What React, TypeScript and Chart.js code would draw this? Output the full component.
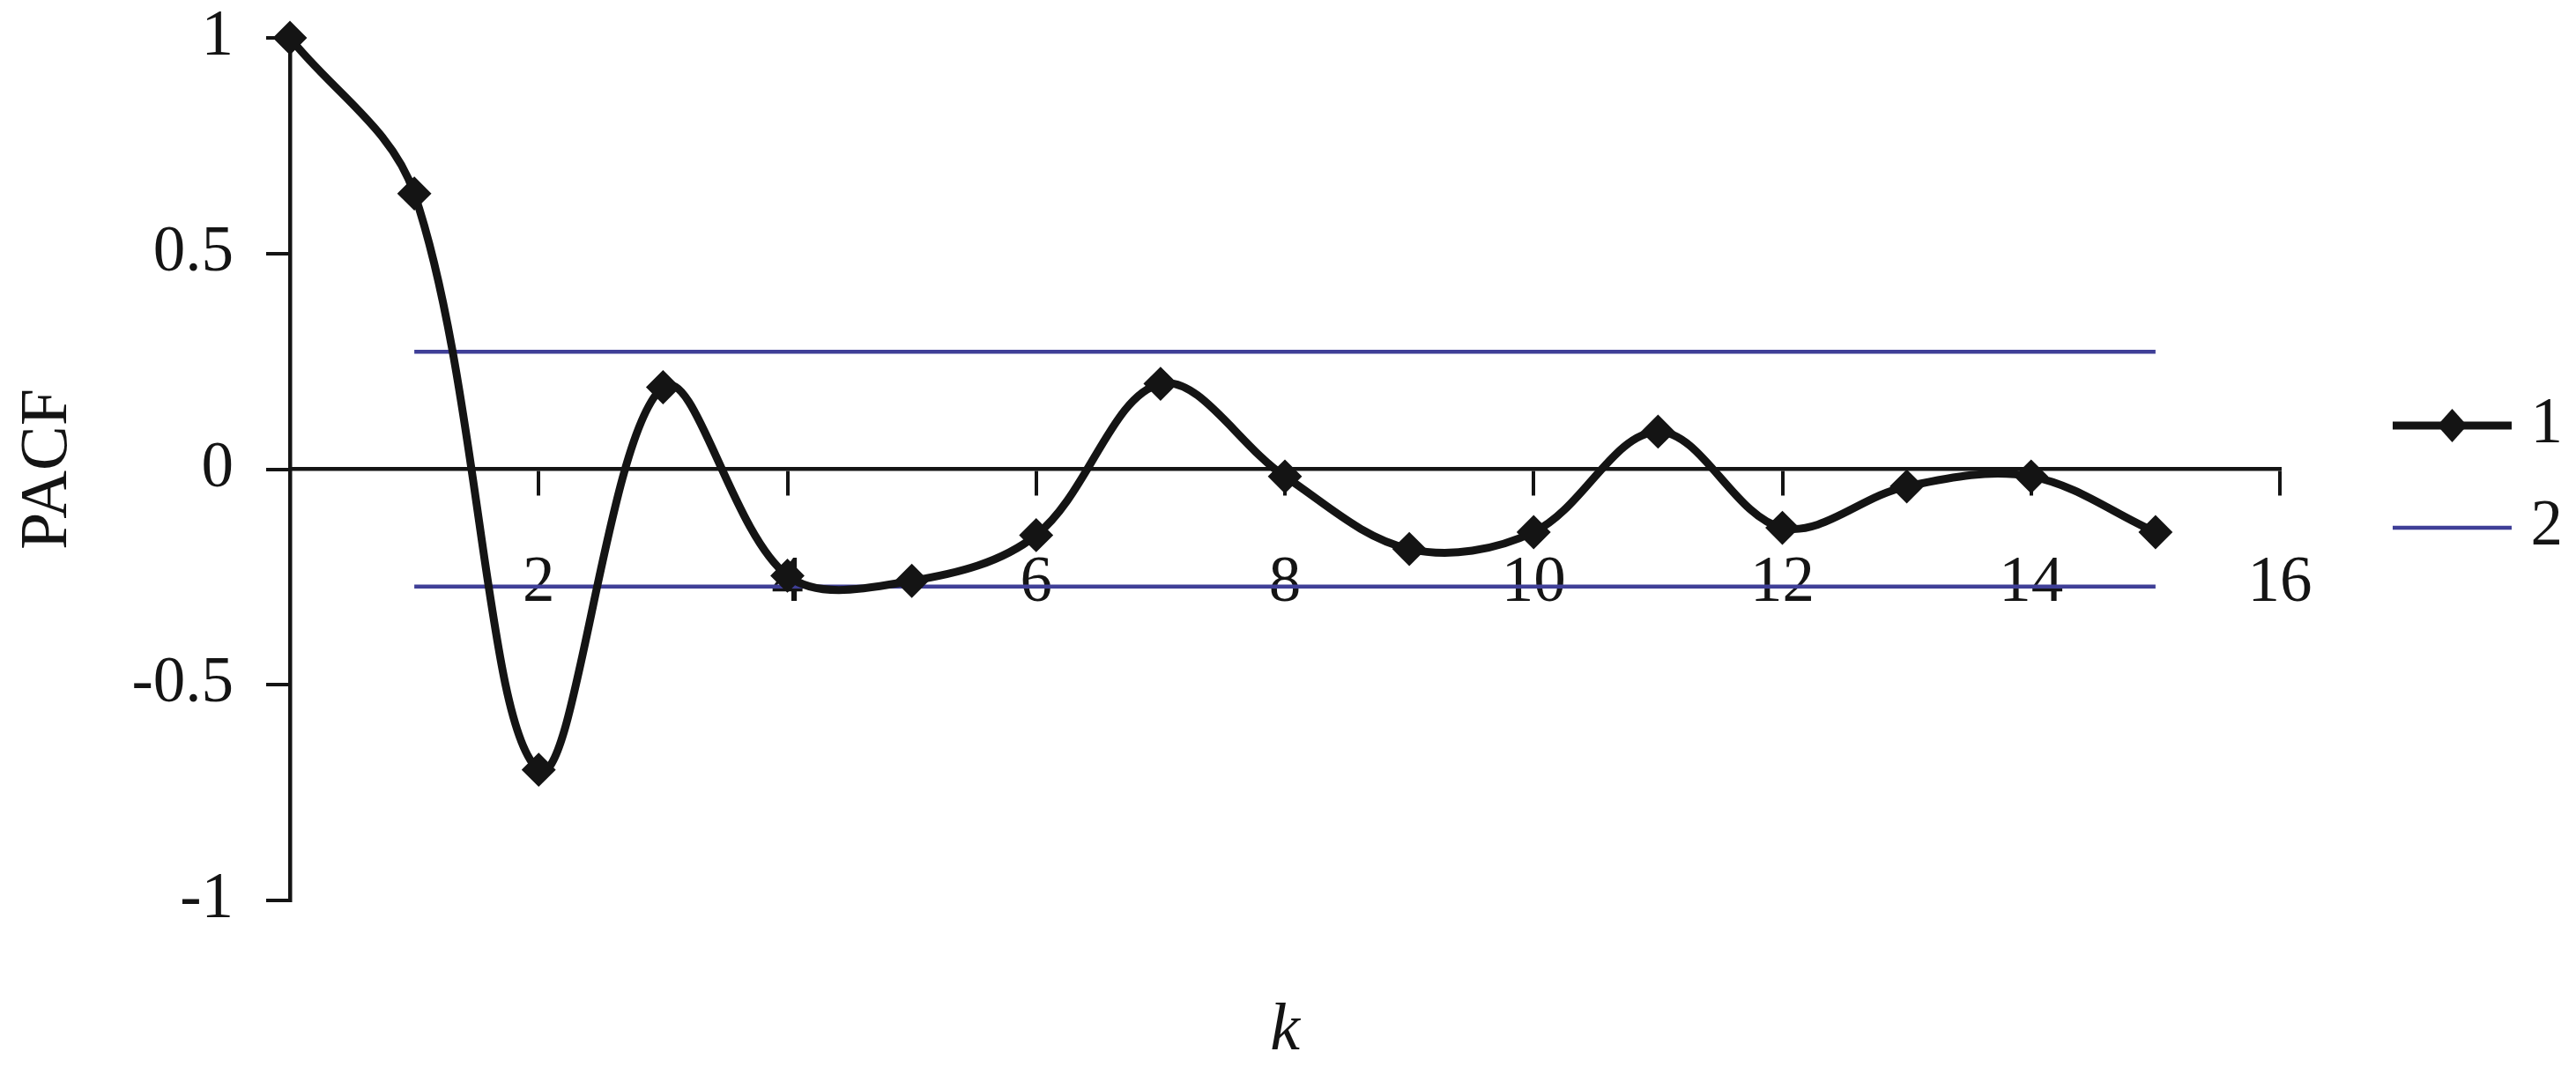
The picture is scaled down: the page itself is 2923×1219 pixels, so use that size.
import React, { useEffect, useRef } from 'react';
import { Chart, registerables } from 'chart.js';

Chart.register(...registerables);

// ---- data ----
const lags = [0, 1, 2, 3, 4, 5, 6, 7, 8, 9, 10, 11, 12, 13, 14, 15];
const pacfValues = [1.0, 0.639, -0.697, 0.19, -0.247, -0.259, -0.153, 0.198, -0.017, -0.185, -0.146, 0.087, -0.136, -0.04, -0.017, -0.146];
const boundLags = [1, 15];
const upperBound = 0.272;
const lowerBound = -0.272;
const xTicks = [2, 4, 6, 8, 10, 12, 14, 16];
const yTicks = [-1, -0.5, 0, 0.5, 1];
const seriesLabels = ['1', '2'];
const xTitle = 'k';
const yTitle = 'PACF';

const BLACK = '#141414';
const BLUE = '#3f3f97';
const FAMILY = "'Liberation Serif', 'Times New Roman', serif";

function makeLegendImage(kind: 'marker' | 'plain'): HTMLCanvasElement {
  const c = document.createElement('canvas');
  c.width = 235;
  c.height = 60;
  const g = c.getContext('2d') as CanvasRenderingContext2D;
  const cy = 30;
  g.lineCap = 'butt';
  if (kind === 'marker') {
    g.strokeStyle = BLACK;
    g.lineWidth = 9;
    g.beginPath();
    g.moveTo(100, cy);
    g.lineTo(235, cy);
    g.stroke();
    g.fillStyle = BLACK;
    g.beginPath();
    g.moveTo(167.5, cy - 19);
    g.lineTo(167.5 + 17, cy);
    g.lineTo(167.5, cy + 19);
    g.lineTo(167.5 - 17, cy);
    g.closePath();
    g.fill();
  } else {
    g.strokeStyle = BLUE;
    g.lineWidth = 4.5;
    g.beginPath();
    g.moveTo(100, cy);
    g.lineTo(235, cy);
    g.stroke();
  }
  return c;
}

export default function App() {
  const canvasRef = useRef<HTMLCanvasElement | null>(null);

  useEffect(() => {
    document.body.style.margin = '0';
    const canvas = canvasRef.current;
    if (!canvas) return;

    const legendImages = [makeLegendImage('marker'), makeLegendImage('plain')];

    const pacfData = lags.map((k, i) => ({ x: k, y: pacfValues[i] }));
    const boundData = [
      { x: boundLags[0], y: upperBound },
      { x: boundLags[1], y: upperBound },
      { x: boundLags[1], y: null },
      { x: boundLags[0], y: lowerBound },
      { x: boundLags[1], y: lowerBound },
    ];

    const chart = new Chart(canvas, {
      type: 'line',
      data: {
        datasets: [
          {
            label: seriesLabels[0],
            data: pacfData as any,
            borderColor: BLACK,
            backgroundColor: BLACK,
            borderWidth: 9,
            tension: 0.35,
            pointStyle: 'rectRot',
            pointRadius: 18,
            pointBorderWidth: 2,
            pointBackgroundColor: BLACK,
            pointBorderColor: BLACK,
            clip: false as any,
          },
          {
            label: seriesLabels[1],
            data: boundData as any,
            borderColor: BLUE,
            backgroundColor: BLUE,
            borderWidth: 4.5,
            pointRadius: 0,
            spanGaps: false,
            tension: 0,
          },
        ],
      },
      options: {
        responsive: false,
        animation: false,
        events: [],
        layout: { padding: { top: 43, right: 5, bottom: 2, left: 0 } },
        plugins: {
          tooltip: { enabled: false },
          legend: {
            position: 'right',
            align: 'start',
            title: {
              display: true,
              text: '',
              font: { size: 10, lineHeight: 1 },
              padding: { top: 350.5, bottom: 0 },
            },
            labels: {
              usePointStyle: true,
              pointStyleWidth: 205,
              padding: 43,
              color: BLACK,
              font: { family: FAMILY, size: 73 },
              generateLabels: (ch: any) => {
                const items = (Chart.defaults.plugins.legend.labels as any).generateLabels(ch);
                return items.map((it: any, i: number) => ({ ...it, pointStyle: legendImages[i] }));
              },
            },
          },
        },
        scales: {
          x: {
            type: 'linear',
            min: 0,
            max: 16,
            position: { y: 0 } as any,
            afterBuildTicks: (s: any) => {
              s.ticks = xTicks.map((v) => ({ value: v }));
            },
            grid: { drawOnChartArea: false, drawTicks: true, tickLength: 28, lineWidth: 4, color: BLACK },
            border: { display: true, color: BLACK, width: 4.5 },
            ticks: {
              color: BLACK,
              font: { family: FAMILY, size: 73 },
              padding: 59,
              maxRotation: 0,
              autoSkip: false,
              callback: (v: any) => String(v),
            },
          },
          x2: {
            type: 'linear',
            position: 'bottom',
            min: 0,
            max: 16,
            grid: { display: false, drawTicks: false },
            border: { display: false },
            ticks: { display: false },
            title: {
              display: true,
              text: xTitle,
              color: BLACK,
              font: { family: FAMILY, size: 76, style: 'italic' },
              padding: { top: 103.8, bottom: 0 },
            },
          },
          y: {
            type: 'linear',
            position: 'left',
            min: -1,
            max: 1,
            afterBuildTicks: (s: any) => {
              s.ticks = yTicks.map((v) => ({ value: v }));
            },
            afterFit: (s: any) => {
              s.width = 329;
              s.paddingTop = 0;
              s.paddingBottom = 0;
            },
            grid: { drawOnChartArea: false, drawTicks: true, tickLength: 27, lineWidth: 4, color: BLACK },
            border: { display: true, color: BLACK, width: 4.5 },
            ticks: {
              color: BLACK,
              font: { family: FAMILY, size: 73, lineHeight: 1.1 },
              padding: 37,
              callback: (v: any) => String(v),
            },
            title: {
              display: true,
              text: yTitle,
              color: BLACK,
              font: { family: FAMILY, size: 76 },
              padding: { top: 9, bottom: 0 },
            },
          },
        },
      } as any,
    });

    return () => {
      chart.destroy();
    };
  }, []);

  return (
    <div style={{ width: 2923, height: 1219, background: '#ffffff' }}>
      <canvas ref={canvasRef} width={2923} height={1219} style={{ display: 'block' }} />
    </div>
  );
}
